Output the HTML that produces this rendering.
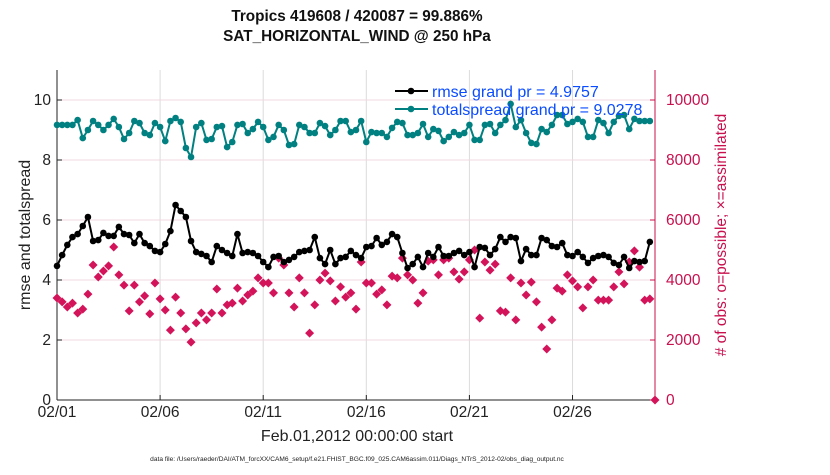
<!DOCTYPE html>
<html><head><meta charset="utf-8"><style>
body{margin:0;background:#fff;}
svg text{font-family:"Liberation Sans",Arial,sans-serif;}
</style></head><body>
<svg id="chart" width="830" height="470" xmlns="http://www.w3.org/2000/svg">
<g id="grid"></g><g id="axes"></g><g id="series"></g><g id="labels"></g>
</svg>
<script>
const xTickLabels=["02/01","02/06","02/11","02/16","02/21","02/26"];
const xTickDays=[0,5,10,15,20,25];
const yLeftTicks=[0,2,4,6,8,10];
const yRightTicks=[0,2000,4000,6000,8000,10000];
const rmse=[4.47,4.83,5.17,5.43,5.53,5.8,6.1,5.3,5.33,5.57,5.47,5.47,5.77,5.53,5.5,5.23,5.53,5.23,5.13,4.97,4.93,5.2,5.63,6.5,6.3,6.1,5.3,4.93,4.87,4.8,4.6,5.13,5.0,4.9,4.8,5.53,4.9,4.93,4.9,4.8,4.6,4.43,4.77,4.8,4.6,4.67,4.77,4.93,4.97,5.0,5.43,4.73,4.53,5.0,4.53,4.73,4.77,4.97,4.83,4.73,5.1,5.13,5.4,5.17,5.27,5.53,5.43,4.9,4.4,4.53,4.77,4.43,4.9,4.77,5.1,4.8,4.8,4.9,4.97,4.83,4.93,4.43,5.1,5.07,4.83,5.03,5.43,5.27,5.43,5.4,4.63,5.03,4.83,4.83,5.4,5.33,5.13,5.1,5.23,4.83,4.8,4.93,4.77,4.57,4.73,4.8,4.83,4.77,4.57,4.5,4.77,4.4,4.63,4.6,4.63,5.27];
const spread=[9.17,9.17,9.17,9.17,9.33,8.73,9.0,9.3,9.17,9.0,9.17,9.37,9.1,8.7,8.9,9.3,9.23,8.9,8.83,9.23,9.1,8.63,9.3,9.4,9.27,8.4,8.1,9.1,9.23,8.67,8.7,9.1,9.13,8.43,8.6,9.17,9.2,8.9,9.03,9.27,9.1,8.67,8.77,9.17,9.0,8.5,8.53,9.17,9.1,8.9,8.9,9.23,9.13,8.83,9.0,9.3,9.3,8.93,9.0,9.3,8.6,8.93,8.9,8.9,8.77,9.07,9.27,9.23,8.83,8.83,8.9,9.2,8.77,9.03,8.97,8.63,8.77,8.93,8.83,8.9,9.17,8.67,8.67,9.17,9.2,8.9,9.17,9.33,9.87,9.1,9.33,8.9,8.57,8.53,9.03,8.93,9.17,9.5,9.5,9.2,9.27,9.37,9.27,8.77,8.77,9.33,9.23,8.9,9.27,9.47,9.5,9.03,9.37,9.3,9.3,9.3];
const obs=[3400,3270,3100,3230,2900,3030,3530,4500,4100,4300,4470,5100,4170,3830,2970,3830,3270,3470,2870,3900,3370,3000,2330,3430,2900,2370,1930,2570,2900,2670,2900,3700,2900,3170,3230,3730,3300,3500,3630,4070,3900,3900,3570,4730,4500,3570,3100,4070,3570,2230,3170,4000,4230,3970,3300,3770,3430,3570,3030,4600,3900,3900,3530,3670,3170,4130,4070,4730,4170,4000,3230,3570,4630,4670,4170,4670,4730,4270,4030,4270,4670,5000,2730,4600,4330,4530,2970,2930,4070,2670,3900,3500,3930,3270,2430,1700,2670,3730,3630,4170,3970,3770,3070,3770,4000,3330,3330,3330,3770,4270,3870,4600,4970,4430,3330,3370,0];

const X0=57,X1=655,Y0=400,YT=70;
const xs=d=>X0+d*(X1-X0)/29;
const yl=v=>Y0-v*(Y0-YT)/11;
const yr=v=>Y0-v*(Y0-YT)/11000;
const NS="http://www.w3.org/2000/svg";
function mk(tag,attrs,parent,txt){const e=document.createElementNS(NS,tag);for(const k in attrs)e.setAttribute(k,attrs[k]);if(txt!==undefined)e.textContent=txt;document.getElementById(parent).appendChild(e);return e;}

xTickDays.forEach((d,i)=>{const g=mk('line',{x1:xs(d),x2:xs(d),y1:YT,y2:Y0,stroke:'#dcdcdc','stroke-width':1},'grid');

});
yLeftTicks.forEach(v=>{if(v===0)return;const g=mk('line',{x1:X0,x2:X1,y1:yl(v),y2:yl(v),stroke:'#f0d8e0','stroke-width':1},'grid');

});

let a=mk('line',{x1:X0,x2:X0,y1:YT,y2:Y0,stroke:'#222','stroke-width':1},'axes');


a=mk('line',{x1:X0,x2:X1,y1:Y0,y2:Y0,stroke:'#222','stroke-width':1},'axes');


a=mk('line',{x1:X1,x2:X1,y1:YT,y2:Y0,stroke:'#c8104e','stroke-width':1},'axes');


xTickDays.forEach((d,i)=>{
 mk('line',{x1:xs(d),x2:xs(d),y1:Y0,y2:Y0-5,stroke:'#222'},'axes');
 const t=mk('text',{x:xs(d),y:Y0+17,'text-anchor':'middle','font-size':15.5,fill:'#222'},'labels',xTickLabels[i]);
 
 
});
yLeftTicks.forEach(v=>{
 mk('line',{x1:X0,x2:X0+5,y1:yl(v),y2:yl(v),stroke:'#222'},'axes');
 const t=mk('text',{x:X0-6,y:yl(v)+5,'text-anchor':'end','font-size':15.5,fill:'#222'},'labels',String(v));
 
 
});
yRightTicks.forEach(v=>{
 mk('line',{x1:X1,x2:X1-5,y1:yr(v),y2:yr(v),stroke:'#c8104e'},'axes');
 const t=mk('text',{x:X1+11,y:yr(v)+5,'text-anchor':'start','font-size':15.5,fill:'#c8104e'},'labels',String(v));
 
 
});

obs.forEach((v,i)=>{const x=xs(i*0.25),y=yr(v);
 const p=mk('path',{d:`M${x} ${y-4.5}L${x+4.5} ${y}L${x} ${y+4.5}L${x-4.5} ${y}Z`,fill:'#d4145a'},'series');
 
 });

function line(arr,color,name){
 const pts=arr.map((v,i)=>xs(i*0.25)+','+yl(v)).join(' ');
 const pl=mk('polyline',{points:pts,fill:'none',stroke:color,'stroke-width':2},'series');
 
 
 arr.forEach((v,i)=>{const c=mk('circle',{cx:xs(i*0.25),cy:yl(v),r:3.3,fill:color},'series');
  
  });
}
line(spread,'#008080','totalspread');
line(rmse,'#000','rmse');
</script>
<svg width="830" height="470" style="position:absolute;left:0;top:0">
<text x="357" y="21" text-anchor="middle" font-size="15.3" font-weight="bold" fill="#111" font-family="Liberation Sans, sans-serif">Tropics 419608 / 420087 = 99.886%</text>
<text x="357" y="41" text-anchor="middle" font-size="15.3" font-weight="bold" fill="#111" font-family="Liberation Sans, sans-serif">SAT_HORIZONTAL_WIND @ 250 hPa</text>
<g>
<line x1="395" y1="91" x2="428" y2="91" stroke="#000" stroke-width="2"/><circle cx="411" cy="91" r="3.3" fill="#000"/>
<text x="432" y="97" font-size="16" fill="#0a4cff" font-family="Liberation Sans, sans-serif">rmse grand pr = 4.9757</text>
<line x1="395" y1="109" x2="428" y2="109" stroke="#008080" stroke-width="2"/><circle cx="411" cy="109" r="3.3" fill="#008080"/>
<text x="432" y="115" font-size="16" fill="#0a4cff" font-family="Liberation Sans, sans-serif">totalspread grand pr = 9.0278</text>
</g>
<text transform="translate(30,235) rotate(-90)" text-anchor="middle" font-size="16" fill="#222" font-family="Liberation Sans, sans-serif">rmse and totalspread</text>
<text transform="translate(726,235) rotate(-90)" text-anchor="middle" font-size="15.5" fill="#c8104e" font-family="Liberation Sans, DejaVu Sans, sans-serif"># of obs: o=possible; ×=assimilated</text>
<text x="357" y="441" text-anchor="middle" font-size="16" fill="#222" font-family="Liberation Sans, sans-serif">Feb.01,2012 00:00:00 start</text>
<text x="357" y="461" text-anchor="middle" font-size="6.6" fill="#222" font-family="Liberation Sans, sans-serif">data file: /Users/raeder/DAI/ATM_forcXX/CAM6_setup/f.e21.FHIST_BGC.f09_025.CAM6assim.011/Diags_NTrS_2012-02/obs_diag_output.nc</text>
</svg>
</body></html>
